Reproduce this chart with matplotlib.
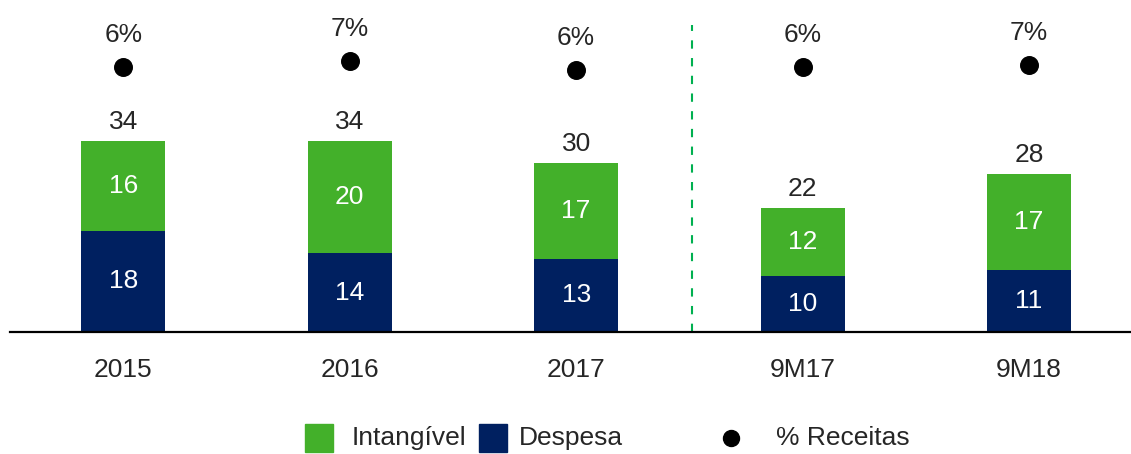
import numpy as np
import matplotlib.pyplot as plt
from matplotlib.patches import Rectangle
from matplotlib.lines import Line2D

plt.rcParams['font.family'] = ['Liberation Sans', 'DejaVu Sans']

# Data
periods = ['2015', '2016', '2017', '9M17', '9M18']
despesa = [18, 14, 13, 10, 11]
intangivel = [16, 20, 17, 12, 17]
totals = [34, 34, 30, 22, 28]
pct_receitas = [6.2, 6.8, 5.9, 6.2, 6.4]
pct_labels = ['6%', '7%', '6%', '6%', '7%']

green = '#43B02A'
navy = '#002060'
txt = '#262626'
fs = 19

W, H = 1131, 454
fig = plt.figure(figsize=(W / 100, H / 100), dpi=100)
ax = fig.add_axes([10 / W, (H - 332) / H, 1121 / W, 332 / H])

x = np.arange(len(periods))
bw = 0.37
ax.bar(x, despesa, bw, color=navy, zorder=2)
ax.bar(x, intangivel, bw, bottom=despesa, color=green, zorder=2)

for i in range(len(periods)):
    ax.text(x[i], despesa[i] / 2, str(despesa[i]), ha='center', va='center',
            color='white', fontsize=fs)
    ax.text(x[i], despesa[i] + intangivel[i] / 2, str(intangivel[i]),
            ha='center', va='center', color='white', fontsize=fs)
    ax.text(x[i], despesa[i] + intangivel[i] + 3.4, str(totals[i]),
            ha='center', va='center', color=txt, fontsize=fs)

ax.set_xlim(-0.5, 4.45)
ax.set_ylim(0, 59)
ax.plot([2.512, 2.512], [0, 54.6], color='#00B050', lw=1.5,
        dashes=(4, 4.5), zorder=1)

for s in ['top', 'right', 'left']:
    ax.spines[s].set_visible(False)
ax.spines['bottom'].set_linewidth(1.6)
ax.spines['bottom'].set_color('black')
ax.set_yticks([])
ax.set_xticks(x)
ax.set_xticklabels(periods, fontsize=fs, color=txt)
ax.tick_params(axis='x', length=0, pad=19)

# % Receitas on secondary scale
ax2 = ax.twinx()
ax2.set_ylim(-20.3, 12.9)
ax2.axis('off')
ax2.scatter(x, pct_receitas, s=160, color='black', zorder=3)
for i in range(len(periods)):
    ax2.text(x[i], pct_receitas[i] + 3.2, pct_labels[i], ha='center',
             va='center', color=txt, fontsize=fs)

# legend drawn by hand
ly = (H - 438) / H
sq = 28
fig.add_artist(Rectangle((305 / W, ly - sq / 2 / H), sq / W, sq / H,
                         color=green, transform=fig.transFigure))
fig.text(352 / W, ly, 'Intangível', va='center', ha='left', fontsize=fs, color=txt)
fig.add_artist(Rectangle((479 / W, ly - sq / 2 / H), sq / W, sq / H,
                         color=navy, transform=fig.transFigure))
fig.text(519 / W, ly, 'Despesa', va='center', ha='left', fontsize=fs, color=txt)
fig.add_artist(Line2D([731 / W], [ly], marker='o', markersize=11.5,
                      color='black', transform=fig.transFigure))
fig.text(776 / W, ly, '% Receitas', va='center', ha='left', fontsize=fs, color=txt)

fig.savefig('out.png', dpi=100)
